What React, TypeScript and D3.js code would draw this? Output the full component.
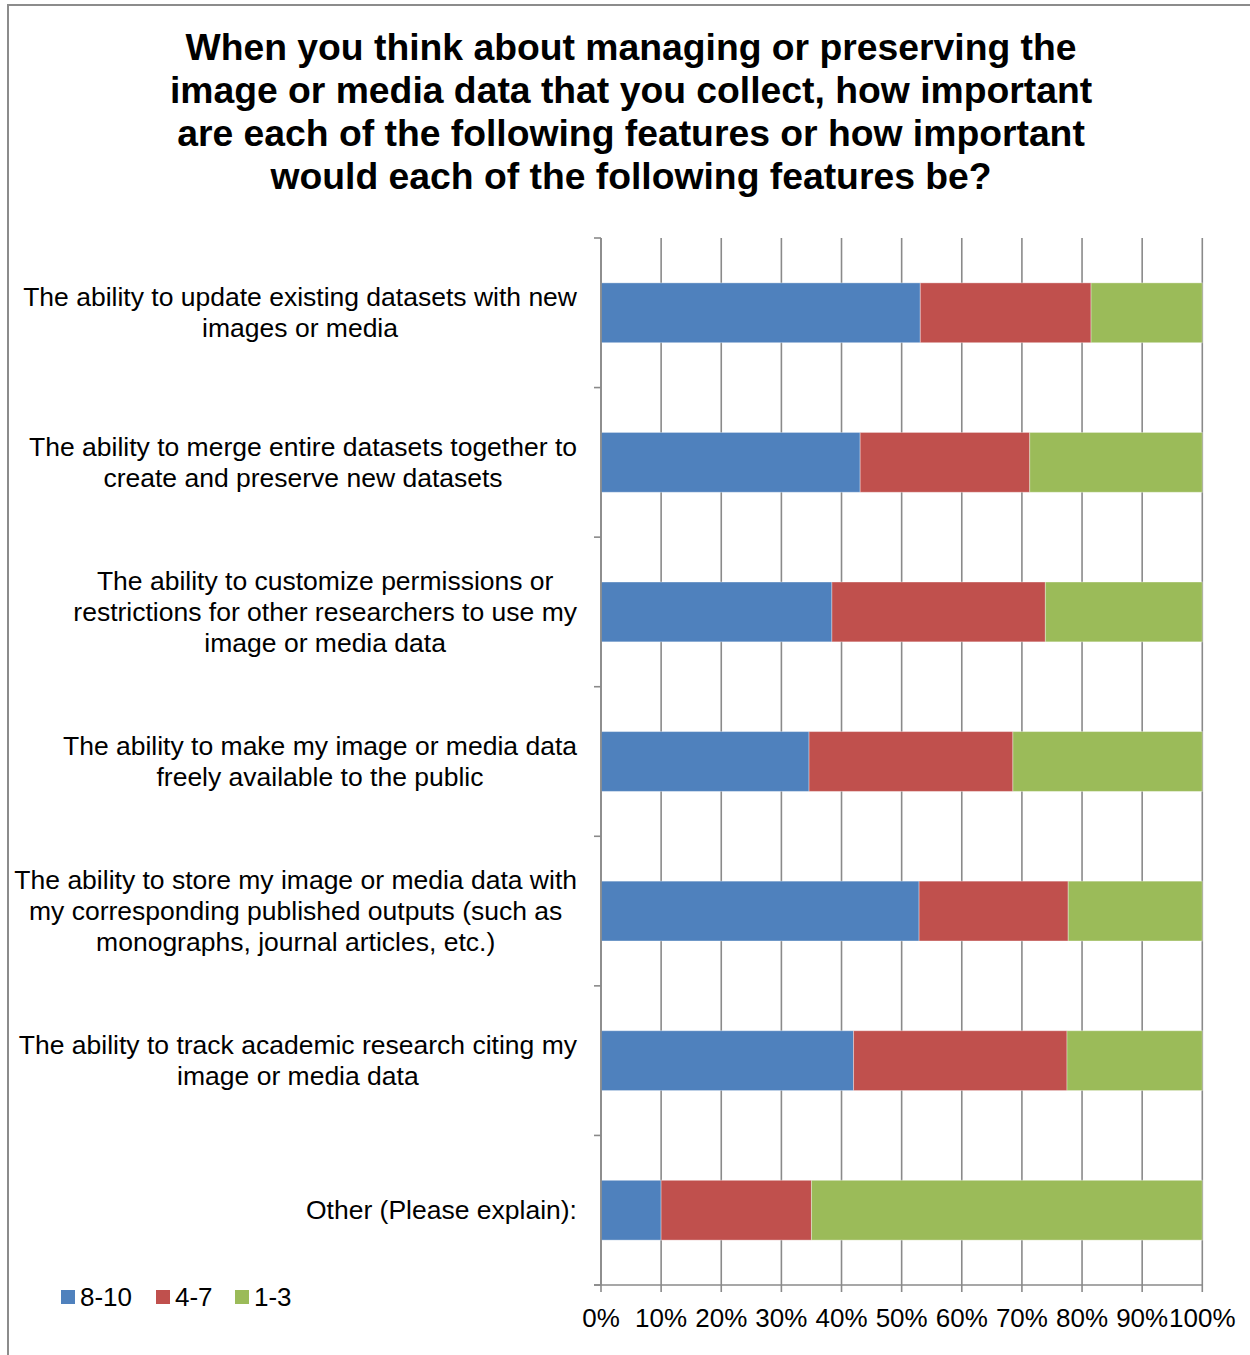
import React, { useEffect, useRef } from "react";
import * as d3 from "d3";

const TITLE_LINES = [
  "When you think about managing or preserving the",
  "image or media data that you collect, how important",
  "are each of the following features or how important",
  "would each of the following features be?",
];

const CATEGORIES: string[][] = [
  ["The ability to update existing datasets with new", "images or media"],
  ["The ability to merge entire datasets together to", "create and preserve new datasets"],
  ["The ability to customize permissions or", "restrictions for other researchers to use my", "image or media data"],
  ["The ability to make my image or media data", "freely available to the public"],
  ["The ability to store my image or media data with", "my corresponding published outputs (such as", "monographs, journal articles, etc.)"],
  ["The ability to track academic research citing my", "image or media data"],
  ["Other (Please explain):"],
];

const SERIES_NAMES = ["8-10", "4-7", "1-3"];
const SERIES_COLORS = ["#4F81BD", "#C0504D", "#9BBB59"];
const S_8_10 = [53.1, 43.1, 38.4, 34.6, 52.9, 42.0, 10.0];
const S_4_7 = [28.4, 28.2, 35.5, 33.9, 24.8, 35.5, 25.0];
const S_1_3 = [18.5, 28.7, 26.1, 31.5, 22.3, 22.5, 65.0];
const X_TICKS = [0, 10, 20, 30, 40, 50, 60, 70, 80, 90, 100];

const FONT = "'Liberation Sans', Arial, Helvetica, sans-serif";
const W = 1250;
const H = 1355;

export default function App() {
  const ref = useRef<SVGSVGElement | null>(null);

  useEffect(() => {
    const svg = d3.select(ref.current);
    svg.selectAll("*").remove();

    const left = 601, right = 1202.3, top = 238, bottom = 1285;
    const x = d3.scaleLinear().domain([0, 100]).range([left, right]);
    const idx = CATEGORIES.map((_, i) => String(i));
    const y = d3.scaleBand().domain(idx).range([top, bottom]).paddingInner(0.6).paddingOuter(0.3);
    const step = y.step();
    const gridColor = "#8a8a8a";

    // frame
    svg.append("path")
      .attr("d", `M8,${H + 5} L8,5 L${W + 5},5`)
      .attr("fill", "none").attr("stroke", "#8c8c8c").attr("stroke-width", 2);

    // title
    const title = svg.append("text")
      .attr("font-family", FONT).attr("font-weight", "bold").attr("font-size", 37.3)
      .attr("text-anchor", "middle").attr("fill", "#000");
    TITLE_LINES.forEach((l, i) => {
      title.append("tspan").attr("x", 631).attr("y", 59.5 + i * 43).text(l);
    });

    // gridlines
    const g = svg.append("g");
    X_TICKS.forEach((t) => {
      g.append("line")
        .attr("x1", x(t)).attr("x2", x(t))
        .attr("y1", top).attr("y2", bottom + 7)
        .attr("stroke", gridColor).attr("stroke-width", 1.6);
    });

    // stacked bars
    const data = CATEGORIES.map((_, i) => ({ i: String(i), a: S_8_10[i], b: S_4_7[i], c: S_1_3[i] }));
    const stack = d3.stack<any>().keys(["a", "b", "c"]);
    const layers = stack(data);
    layers.forEach((layer, si) => {
      g.append("g").selectAll("rect").data(layer).enter().append("rect")
        .attr("x", (d: any) => x(d[0]))
        .attr("width", (d: any) => x(d[1]) - x(d[0]))
        .attr("y", (d: any) => y(d.data.i) as number)
        .attr("height", y.bandwidth())
        .attr("fill", SERIES_COLORS[si])
        .attr("stroke", "rgba(255,255,255,0.35)")
        .attr("stroke-width", 1);
    });

    // y axis line + ticks
    g.append("line").attr("x1", left).attr("x2", left).attr("y1", top).attr("y2", bottom)
      .attr("stroke", gridColor).attr("stroke-width", 1.6);
    for (let i = 0; i <= CATEGORIES.length; i++) {
      const yy = top + i * step;
      g.append("line").attr("x1", left - 7).attr("x2", left).attr("y1", yy).attr("y2", yy)
        .attr("stroke", gridColor).attr("stroke-width", 1.6);
    }
    // x axis line
    g.append("line").attr("x1", left - 7).attr("x2", right).attr("y1", bottom).attr("y2", bottom)
      .attr("stroke", gridColor).attr("stroke-width", 1.6);

    // x tick labels
    X_TICKS.forEach((t) => {
      svg.append("text").attr("x", x(t)).attr("y", 1327)
        .attr("font-family", FONT).attr("font-size", 26).attr("text-anchor", "middle")
        .attr("fill", "#000").text(`${t}%`);
    });

    // category labels
    const lineH = 31;
    CATEGORIES.forEach((lines, i) => {
      const cy = (y(String(i)) as number) + y.bandwidth() / 2;
      const t = svg.append("text").attr("font-family", FONT).attr("font-size", 26.5)
        .attr("text-anchor", "middle").attr("fill", "#000");
      const spans = lines.map((l, k) =>
        t.append("tspan").attr("y", cy + 9.2 + (k - (lines.length - 1) / 2) * lineH).text(l)
      );
      let maxW = 0;
      spans.forEach((s) => {
        const n = s.node() as SVGTSpanElement;
        maxW = Math.max(maxW, n.getComputedTextLength());
      });
      const cx = 577 - maxW / 2;
      spans.forEach((s) => s.attr("x", cx));
    });

    // legend
    const legX = [61, 156, 235];
    SERIES_NAMES.forEach((n, i) => {
      svg.append("rect").attr("x", legX[i]).attr("y", 1290).attr("width", 14).attr("height", 14)
        .attr("fill", SERIES_COLORS[i]);
      svg.append("text").attr("x", legX[i] + 19).attr("y", 1306)
        .attr("font-family", FONT).attr("font-size", 26).attr("fill", "#000").text(n);
    });
  }, []);

  return (
    <svg
      ref={ref}
      width={W}
      height={H}
      style={{ position: "absolute", left: 0, top: 0, background: "#fff" }}
    />
  );
}
